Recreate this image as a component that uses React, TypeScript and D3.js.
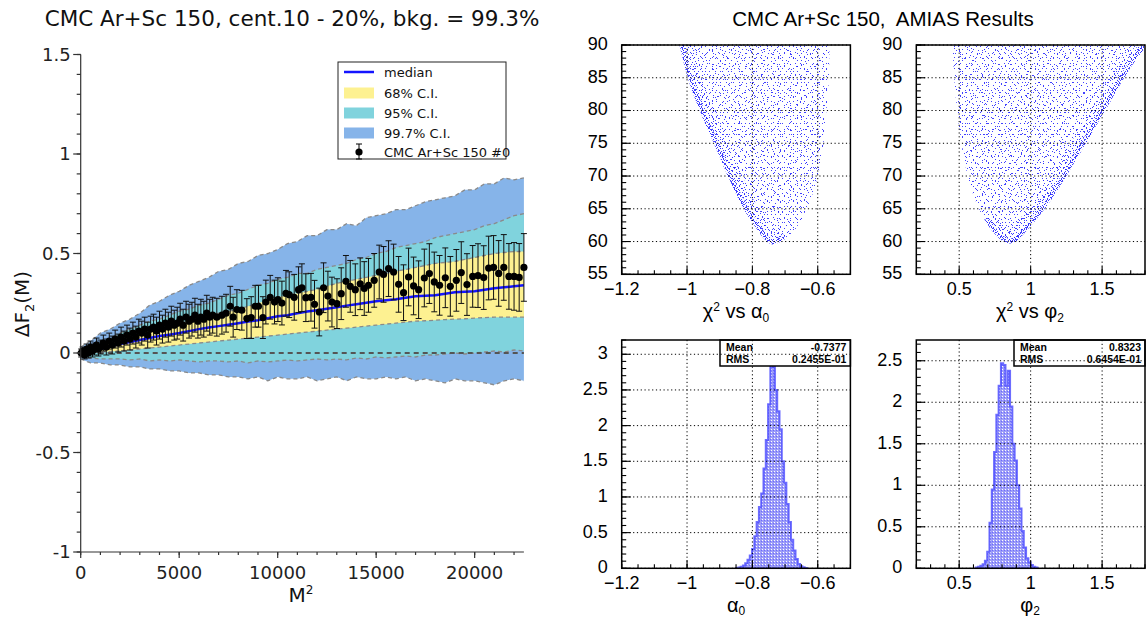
import React from "react";
import * as d3 from "d3";

// ---------- left panel: dF2(M) bands ----------
const bandM2 = [0, 500, 1000, 1500, 2000, 2500, 3000, 3500, 4000, 4500, 5000, 5500, 6000, 6500, 7000, 7500, 8000, 8500, 9000, 9500, 10000, 10500, 11000, 11500, 12000, 12500, 13000, 13500, 14000, 14500, 15000, 15500, 16000, 16500, 17000, 17500, 18000, 18500, 19000, 19500, 20000, 20500, 21000, 21500, 22000, 22500];
const ci997Hi = [0.03, 0.06, 0.1, 0.12, 0.15, 0.17, 0.2, 0.24, 0.26, 0.29, 0.31, 0.34, 0.36, 0.38, 0.41, 0.42, 0.45, 0.46, 0.49, 0.5, 0.52, 0.55, 0.56, 0.59, 0.59, 0.62, 0.62, 0.65, 0.64, 0.68, 0.69, 0.7, 0.72, 0.72, 0.74, 0.76, 0.77, 0.78, 0.79, 0.82, 0.82, 0.85, 0.85, 0.88, 0.87, 0.88];
const ci997Lo = [-0.03, -0.05, -0.05, -0.06, -0.06, -0.07, -0.07, -0.08, -0.08, -0.09, -0.09, -0.1, -0.1, -0.11, -0.11, -0.12, -0.12, -0.13, -0.12, -0.14, -0.12, -0.13, -0.13, -0.12, -0.14, -0.13, -0.12, -0.14, -0.12, -0.13, -0.13, -0.12, -0.13, -0.12, -0.14, -0.13, -0.14, -0.15, -0.13, -0.14, -0.14, -0.15, -0.16, -0.14, -0.13, -0.14];
const ci95Hi = [0.02, 0.035, 0.05, 0.07, 0.1, 0.12, 0.14, 0.16, 0.17, 0.19, 0.21, 0.22, 0.24, 0.25, 0.27, 0.29, 0.3, 0.32, 0.34, 0.35, 0.37, 0.38, 0.4, 0.4, 0.42, 0.43, 0.44, 0.45, 0.47, 0.48, 0.5, 0.51, 0.53, 0.54, 0.55, 0.56, 0.58, 0.59, 0.6, 0.61, 0.62, 0.64, 0.65, 0.67, 0.69, 0.7];
const ci95Lo = [-0.02, -0.025, -0.03, -0.03, -0.03, -0.035, -0.03, -0.04, -0.035, -0.04, -0.035, -0.04, -0.045, -0.04, -0.04, -0.045, -0.04, -0.05, -0.04, -0.045, -0.04, -0.035, -0.04, -0.035, -0.03, -0.035, -0.03, -0.035, -0.025, -0.03, -0.02, -0.025, -0.02, -0.015, -0.02, -0.01, -0.01, -0.005, 0, -0.005, 0, 0.005, 0.01, 0.005, 0.015, 0.01];
const ci68Hi = [0.01, 0.025, 0.04, 0.055, 0.07, 0.08, 0.09, 0.105, 0.12, 0.135, 0.15, 0.16, 0.17, 0.185, 0.2, 0.21, 0.22, 0.235, 0.25, 0.265, 0.28, 0.29, 0.3, 0.31, 0.32, 0.335, 0.35, 0.36, 0.37, 0.38, 0.39, 0.4, 0.41, 0.42, 0.43, 0.44, 0.45, 0.455, 0.46, 0.47, 0.48, 0.49, 0.5, 0.505, 0.51, 0.51];
const ci68Lo = [0, 0, 0.005, 0.008, 0.01, 0.015, 0.02, 0.025, 0.03, 0.035, 0.04, 0.045, 0.05, 0.055, 0.06, 0.065, 0.07, 0.075, 0.08, 0.085, 0.09, 0.095, 0.1, 0.105, 0.11, 0.115, 0.12, 0.125, 0.13, 0.135, 0.14, 0.145, 0.15, 0.155, 0.16, 0.162, 0.165, 0.168, 0.17, 0.172, 0.175, 0.178, 0.18, 0.18, 0.18, 0.18];
const medianY = [0, 0.01, 0.02, 0.033, 0.045, 0.055, 0.065, 0.075, 0.085, 0.092, 0.1, 0.11, 0.12, 0.128, 0.135, 0.142, 0.15, 0.158, 0.165, 0.175, 0.185, 0.19, 0.2, 0.208, 0.215, 0.222, 0.23, 0.238, 0.245, 0.252, 0.26, 0.265, 0.27, 0.278, 0.285, 0.288, 0.29, 0.298, 0.305, 0.308, 0.31, 0.318, 0.325, 0.33, 0.335, 0.34];

// data points: [M^2, dF2, error]
const cmcPoints: [number, number, number][] = [
  [25, 0, 0.02], [100, 0.01, 0.02], [200, -0.01, 0.02], [300, 0.02, 0.025], [400, 0, 0.025], [500, 0.03, 0.03], [600, 0.01, 0.03], [700, 0.02, 0.03], [800, 0.04, 0.035], [900, 0.02, 0.035],
  [1000, 0.03, 0.035], [1150, 0.05, 0.04], [1300, 0.03, 0.04], [1450, 0.06, 0.04], [1600, 0.04, 0.045], [1750, 0.07, 0.045], [1900, 0.05, 0.045], [2050, 0.08, 0.05], [2200, 0.06, 0.05], [2350, 0.09, 0.05],
  [2500, 0.07, 0.055], [2650, 0.1, 0.055], [2800, 0.08, 0.055], [2950, 0.11, 0.06], [3100, 0.1, 0.06], [3250, 0.12, 0.06], [3400, 0.09, 0.065], [3550, 0.12, 0.065], [3700, 0.13, 0.065], [3850, 0.11, 0.07],
  [4000, 0.14, 0.07], [4150, 0.12, 0.07], [4300, 0.15, 0.07], [4450, 0.13, 0.075], [4600, 0.16, 0.075], [4750, 0.14, 0.075], [4900, 0.15, 0.08], [5050, 0.17, 0.08], [5200, 0.14, 0.08], [5350, 0.18, 0.08],
  [5500, 0.16, 0.085], [5650, 0.17, 0.085], [5800, 0.19, 0.085], [5950, 0.16, 0.085], [6100, 0.18, 0.09], [6250, 0.17, 0.09], [6400, 0.2, 0.09], [6550, 0.18, 0.09], [6700, 0.19, 0.09],
  [6910, 0.18, 0.095], [7170, 0.19, 0.095], [7380, 0.2, 0.095], [7590, 0.235, 0.1], [7740, 0.18, 0.1], [7930, 0.218, 0.1], [8180, 0.215, 0.1], [8435, 0.173, 0.1], [8655, 0.178, 0.105], [8860, 0.235, 0.105],
  [9025, 0.235, 0.105], [9250, 0.178, 0.105], [9400, 0.256, 0.11], [9620, 0.28, 0.11], [9840, 0.256, 0.11], [10010, 0.268, 0.11], [10215, 0.251, 0.11], [10420, 0.3, 0.115], [10585, 0.293, 0.115], [10840, 0.28, 0.115],
  [11060, 0.318, 0.115], [11230, 0.328, 0.12], [11430, 0.278, 0.12], [11690, 0.28, 0.12], [11870, 0.245, 0.12], [12110, 0.206, 0.12], [12330, 0.328, 0.125], [12550, 0.286, 0.125], [12755, 0.256, 0.125], [13010, 0.248, 0.125],
  [13225, 0.298, 0.13], [13465, 0.36, 0.13], [13685, 0.335, 0.13], [13940, 0.318, 0.13], [14190, 0.348, 0.13], [14395, 0.324, 0.135], [14610, 0.34, 0.135], [14900, 0.365, 0.135], [15155, 0.407, 0.135], [15375, 0.395, 0.14],
  [15630, 0.424, 0.14], [15885, 0.407, 0.14], [16140, 0.345, 0.14], [16390, 0.303, 0.14], [16645, 0.382, 0.145], [16900, 0.337, 0.145], [17155, 0.318, 0.145], [17445, 0.377, 0.145], [17700, 0.399, 0.15], [17950, 0.357, 0.15],
  [18220, 0.34, 0.15], [18510, 0.378, 0.15], [18765, 0.335, 0.15], [19070, 0.365, 0.155], [19320, 0.404, 0.155], [19610, 0.344, 0.155], [19900, 0.385, 0.155], [20170, 0.389, 0.16], [20460, 0.379, 0.16], [20710, 0.427, 0.16],
  [20960, 0.43, 0.16], [21220, 0.4, 0.165], [21480, 0.43, 0.165], [21740, 0.385, 0.165], [22000, 0.385, 0.17], [22260, 0.38, 0.17], [22500, 0.43, 0.17],
];

const leftYTicks = [-1, -0.5, 0, 0.5, 1, 1.5];
const leftYLabels = ["-1", "-0.5", "0", "0.5", "1", "1.5"];
const leftXTicks = [0, 5000, 10000, 15000, 20000];
const leftXLabels = ["0", "5000", "10000", "15000", "20000"];
const legendLabels = ["median", "68% C.I.", "95% C.I.", "99.7% C.I.", "CMC Ar+Sc 150 #0"];

// ---------- right panels: AMIAS ----------
// scatter envelopes: [parameter, chi2]
const a0Envelope: [number, number][] = [[-1.023, 90], [-0.996, 84.7], [-0.962, 80.1], [-0.918, 75], [-0.874, 69.9], [-0.83, 65.3], [-0.785, 61.8], [-0.76, 60.2], [-0.741, 59.6], [-0.72, 59.8], [-0.697, 60.5], [-0.663, 62.3], [-0.636, 64.8], [-0.608, 68.4], [-0.586, 73.5], [-0.575, 79.1], [-0.566, 84.7], [-0.564, 90]];
const phiEnvelope: [number, number][] = [[0.452, 90], [0.478, 81.6], [0.516, 75], [0.579, 68.4], [0.679, 63.3], [0.78, 60.5], [0.844, 59.7], [0.9, 60.1], [0.957, 61.3], [1.109, 65.3], [1.26, 70.4], [1.386, 75], [1.537, 80.6], [1.688, 86.2], [1.8, 89.7], [1.8, 90]];

const a0Start = -0.85;
const a0Width = 0.007;
const a0Hist = [0.005, 0.01, 0.02, 0.04, 0.07, 0.12, 0.18, 0.27, 0.45, 0.65, 0.86, 1.05, 1.4, 1.8, 2.3, 2.87, 2.82, 2.5, 2.2, 1.95, 1.5, 1.2, 0.9, 0.65, 0.4, 0.25, 0.13, 0.06, 0.03, 0.015, 0.005];
const phiStart = 0.616;
const phiWidth = 0.016;
const phiHist = [0.01, 0.02, 0.03, 0.05, 0.09, 0.2, 0.55, 0.95, 1.4, 1.85, 2.2, 2.47, 2.45, 2.2, 2.38, 1.95, 1.5, 1.3, 1.0, 0.72, 0.45, 0.25, 0.12, 0.07, 0.04, 0.02, 0.01];

const a0Ticks = [-1.2, -1, -0.8, -0.6];
const a0Labels = ["\u22121.2", "\u22121", "\u22120.8", "\u22120.6"];
const phiTicks = [0.5, 1, 1.5];
const phiLabels = ["0.5", "1", "1.5"];
const chiTicks = [55, 60, 65, 70, 75, 80, 85, 90];
const chiLabels = ["55", "60", "65", "70", "75", "80", "85", "90"];
const h1Ticks = [0, 0.5, 1, 1.5, 2, 2.5, 3];
const h1Labels = ["0", "0.5", "1", "1.5", "2", "2.5", "3"];
const h2Ticks = [0, 0.5, 1, 1.5, 2, 2.5];
const h2Labels = ["0", "0.5", "1", "1.5", "2", "2.5"];
const a0Stats = ["-0.7377", "0.2455E-01"];
const phiStats = ["0.8323", "0.6454E-01"];

const FL = "'DejaVu Sans', sans-serif";
const FR = "'Liberation Sans', Arial, sans-serif";

function BandChart() {
  const x = d3.scaleLinear().domain([0, 22500]).range([80.7, 523.9]);
  const y = d3.scaleLinear().domain([-1, 1.5]).range([552, 54.5]);
  const band = (lo: number[], hi: number[]) =>
    d3.area<number>().x((d) => x(d)).y0((_, i) => y(lo[i])).y1((_, i) => y(hi[i]))(bandM2) || "";
  const edge = (v: number[]) => d3.line<number>().x((d) => x(d)).y((_, i) => y(v[i]))(bandM2) || "";
  const yMinor = d3.range(-1, 1.5001, 0.1);
  const xMinor = d3.range(0, 22501, 1000);
  const lx = 338, ly = 62;
  const rows = [72, 93, 113, 133, 152];
  const swatch = ["#fdf191", "#80d3dd", "#86b4e9"];

  return (
    <g fontFamily={FL}>
      <text x={292} y={26} textAnchor="middle" fontSize={21.5} fill="#111">
        CMC Ar+Sc 150, cent.10 - 20%, bkg. = 99.3%
      </text>
      <path d={band(ci997Lo, ci997Hi)} fill="#86b4e9" />
      <path d={band(ci95Lo, ci95Hi)} fill="#80d3dd" />
      <path d={band(ci68Lo, ci68Hi)} fill="#fdf191" />
      <g fill="none" stroke="#8a8a8a" strokeWidth={1.3} strokeDasharray="4,3">
        {[ci997Hi, ci997Lo, ci95Hi, ci95Lo, ci68Hi, ci68Lo].map((v, i) => (
          <path key={i} d={edge(v)} />
        ))}
      </g>
      <line x1={x(0)} x2={x(22500)} y1={y(0)} y2={y(0)} stroke="#555" strokeWidth={2} strokeDasharray="5,4" />
      <path d={edge(medianY)} fill="none" stroke="#1414ff" strokeWidth={2.5} />
      <g stroke="#111" strokeWidth={1}>
        {cmcPoints.map(([m, v, e], i) => (
          <g key={i}>
            <line x1={x(m)} x2={x(m)} y1={y(v - e)} y2={y(v + e)} />
            <line x1={x(m) - 3} x2={x(m) + 3} y1={y(v - e)} y2={y(v - e)} />
            <line x1={x(m) - 3} x2={x(m) + 3} y1={y(v + e)} y2={y(v + e)} />
          </g>
        ))}
      </g>
      <g fill="#000">
        {cmcPoints.map(([m, v], i) => (
          <circle key={i} cx={x(m)} cy={y(v)} r={3.6} />
        ))}
      </g>
      {/* axes */}
      <g stroke="#333" strokeWidth={1.2}>
        <line x1={x(0)} x2={x(0)} y1={y(-1)} y2={y(1.5)} />
        <line x1={x(0)} x2={x(22500)} y1={y(-1)} y2={y(-1)} />
        {yMinor.map((t, i) => (
          <line key={"ym" + i} x1={x(0) - 4} x2={x(0)} y1={y(t)} y2={y(t)} />
        ))}
        {leftYTicks.map((t, i) => (
          <line key={"y" + i} x1={x(0) - 7.5} x2={x(0)} y1={y(t)} y2={y(t)} />
        ))}
        {xMinor.map((t, i) => (
          <line key={"xm" + i} x1={x(t)} x2={x(t)} y1={y(-1)} y2={y(-1) + 3} />
        ))}
        {leftXTicks.map((t, i) => (
          <line key={"x" + i} x1={x(t)} x2={x(t)} y1={y(-1)} y2={y(-1) + 6} />
        ))}
      </g>
      <g fontSize={18} fill="#222">
        {leftYTicks.map((t, i) => (
          <text key={i} x={x(0) - 10} y={y(t)} dy="0.36em" textAnchor="end">
            {leftYLabels[i]}
          </text>
        ))}
        {leftXTicks.map((t, i) => (
          <text key={i} x={x(t)} y={579} textAnchor="middle">
            {leftXLabels[i]}
          </text>
        ))}
      </g>
      <text x={301} y={602} textAnchor="middle" fontSize={20} fill="#111">
        M<tspan dy={-8} fontSize={12}>2</tspan>
      </text>
      <text transform="translate(29,304) rotate(-90)" textAnchor="middle" fontSize={20} fill="#111">
        ΔF<tspan dy={5} fontSize={13}>2</tspan>
        <tspan dy={-5}>(M)</tspan>
      </text>
      {/* legend */}
      <rect x={lx} y={ly} width={168} height={97} fill="#fff" stroke="#222" strokeWidth={1} />
      <line x1={344} x2={374} y1={rows[0]} y2={rows[0]} stroke="#1414ff" strokeWidth={2.5} />
      {swatch.map((c, i) => (
        <rect key={i} x={344} y={rows[i + 1] - 5.5} width={30} height={11} fill={c} />
      ))}
      <g stroke="#000" strokeWidth={1}>
        <line x1={359} x2={359} y1={rows[4] - 8} y2={rows[4] + 7} />
        <line x1={356} x2={362} y1={rows[4] - 8} y2={rows[4] - 8} />
        <line x1={356} x2={362} y1={rows[4] + 7} y2={rows[4] + 7} />
      </g>
      <circle cx={359} cy={rows[4]} r={3.6} fill="#000" />
      <g fontSize={13} fill="#111">
        {legendLabels.map((l, i) => (
          <text key={i} x={384} y={rows[i]} dy="0.36em">
            {l}
          </text>
        ))}
      </g>
    </g>
  );
}

type Box = { l: number; r: number; t: number; b: number };
type Sc = d3.ScaleLinear<number, number>;

function RootPanel(props: {
  id: string;
  box: Box;
  xDom: [number, number];
  yDom: [number, number];
  xTicks: number[];
  xLabels: string[];
  xMinor: number[];
  yTicks: number[];
  yLabels: string[];
  yMinor: number[];
  render: (x: Sc, y: Sc) => React.ReactNode;
  overlay?: React.ReactNode;
}) {
  const { id, box, xDom, yDom, xTicks, xLabels, xMinor, yTicks, yLabels, yMinor, render, overlay } = props;
  const x = d3.scaleLinear().domain(xDom).range([box.l, box.r]);
  const y = d3.scaleLinear().domain(yDom).range([box.b, box.t]);
  return (
    <g>
      <defs>
        <clipPath id={id}>
          <rect x={box.l} y={box.t} width={box.r - box.l} height={box.b - box.t} />
        </clipPath>
      </defs>
      <g clipPath={`url(#${id})`}>{render(x, y)}</g>
      {overlay}
      <g stroke="#000" strokeWidth={1} strokeDasharray="1.2,2.6">
        {xTicks.map((t, i) => (
          <line key={"gx" + i} x1={x(t)} x2={x(t)} y1={box.t} y2={box.b} />
        ))}
        {yTicks.map((t, i) => (
          <line key={"gy" + i} x1={box.l} x2={box.r} y1={y(t)} y2={y(t)} />
        ))}
      </g>
      <rect x={box.l} y={box.t} width={box.r - box.l} height={box.b - box.t} fill="none" stroke="#000" strokeWidth={1.5} />
      <g stroke="#000" strokeWidth={1.1}>
        {xMinor.map((t, i) => (
          <line key={"mx" + i} x1={x(t)} x2={x(t)} y1={box.b} y2={box.b - 4} />
        ))}
        {xTicks.map((t, i) => (
          <line key={"tx" + i} x1={x(t)} x2={x(t)} y1={box.b} y2={box.b - 8} />
        ))}
        {yMinor.map((t, i) => (
          <line key={"my" + i} x1={box.l} x2={box.l + 4.5} y1={y(t)} y2={y(t)} />
        ))}
        {yTicks.map((t, i) => (
          <line key={"ty" + i} x1={box.l} x2={box.l + 9} y1={y(t)} y2={y(t)} />
        ))}
      </g>
      <g fontFamily={FR} fontSize={18} fill="#000">
        {xTicks.map((t, i) => (
          <text key={i} x={x(t)} y={box.b + 20.5} textAnchor="middle">
            {xLabels[i]}
          </text>
        ))}
        {yTicks.map((t, i) => (
          <text key={i} x={box.l - 14} y={y(t) - 1.5} dy="0.36em" textAnchor="end">
            {yLabels[i]}
          </text>
        ))}
      </g>
    </g>
  );
}

function scatter(env: [number, number][], dense: [number, number][], id: string) {
  return (x: Sc, y: Sc) => {
    const ln = d3.line<[number, number]>().x((d) => x(d[0])).y((d) => y(d[1])).curve(d3.curveCatmullRom);
    const poly = (ln(env) || "") + "Z";
    const dd = ln(dense) || "";
    return (
      <g>
        <clipPath id={id}>
          <path d={poly} />
        </clipPath>
        <path d={poly} fill="url(#dots11)" />
        <path d={poly} fill="url(#dots13)" />
        <path d={poly} fill="url(#dots17)" />
        <path d={poly} fill="url(#dots19)" />
        <path d={dd} fill="none" stroke="url(#dots7)" strokeWidth={26} clipPath={`url(#${id})`} />
        <path d={dd} fill="none" stroke="url(#dotsDense)" strokeWidth={9} clipPath={`url(#${id})`} />
      </g>
    );
  };
}

function hist(start: number, w: number, h: number[]) {
  return (x: Sc, y: Sc) => {
    let d = `M${x(start)},${y(0)}`;
    h.forEach((v, i) => {
      d += `L${x(start + i * w)},${y(v)}L${x(start + (i + 1) * w)},${y(v)}`;
    });
    d += `L${x(start + h.length * w)},${y(0)}Z`;
    return <path d={d} fill="url(#histFill)" stroke="#4a4aff" strokeWidth={2} strokeOpacity={0.8} />;
  };
}

function StatsBox({ l, r, t, vals }: { l: number; r: number; t: number; vals: string[] }) {
  return (
    <g fontFamily={FR} fontSize={10.5} fontWeight="bold" fill="#000">
      <rect x={l} y={t} width={r - l} height={26} fill="#fff" stroke="#000" strokeWidth={1.5} />
      <text x={l + 6} y={t + 11}>Mean</text>
      <text x={r - 4} y={t + 11} textAnchor="end">{vals[0]}</text>
      <text x={l + 6} y={t + 23}>RMS</text>
      <text x={r - 4} y={t + 23} textAnchor="end">{vals[1]}</text>
    </g>
  );
}

function Dot({ x, y }: { x: number; y: number }) {
  return <rect x={x} y={y} width={1} height={1} fill="#2020ff" fillOpacity={0.85} />;
}

function AmiasPanels() {
  const A: Box = { l: 621.7, r: 850.4, t: 45, b: 274.3 };
  const B: Box = { l: 916.3, r: 1145, t: 45, b: 274.3 };
  const C: Box = { l: 621.7, r: 850.4, t: 340, b: 568.3 };
  const D: Box = { l: 916.3, r: 1145, t: 340, b: 568.3 };
  const a0Minor = d3.range(-1.2, -0.4999, 0.05);
  const phiMinor = d3.range(0.2, 1.8001, 0.1);
  const chiMinor = d3.range(55, 90.001, 1);
  const h1Minor = d3.range(0, 3.2001, 0.1);
  const h2Minor = d3.range(0, 2.7501, 0.1);
  return (
    <g>
      <defs>
        <pattern id="dots7" width={7} height={7} patternUnits="userSpaceOnUse">
          <Dot x={1} y={1} /><Dot x={4} y={3} /><Dot x={2} y={5} /><Dot x={6} y={6} />
        </pattern>
        <pattern id="dots11" width={11} height={11} patternUnits="userSpaceOnUse">
          <Dot x={3} y={8} /><Dot x={8} y={2} /><Dot x={9} y={9} /><Dot x={5} y={5} /><Dot x={1} y={2} />
        </pattern>
        <pattern id="dots13" width={13} height={13} patternUnits="userSpaceOnUse">
          <Dot x={0} y={6} /><Dot x={7} y={11} /><Dot x={11} y={4} /><Dot x={4} y={1} /><Dot x={10} y={12} />
        </pattern>
        <pattern id="dots17" width={17} height={17} patternUnits="userSpaceOnUse">
          <Dot x={2} y={14} /><Dot x={13} y={7} /><Dot x={8} y={3} /><Dot x={6} y={10} /><Dot x={15} y={15} />
        </pattern>
        <pattern id="dots19" width={19} height={19} patternUnits="userSpaceOnUse">
          <Dot x={3} y={3} /><Dot x={12} y={16} /><Dot x={17} y={9} /><Dot x={9} y={12} /><Dot x={1} y={17} /><Dot x={14} y={1} />
        </pattern>
        <pattern id="dotsDense" width={4} height={4} patternUnits="userSpaceOnUse">
          <Dot x={0} y={0} /><Dot x={2} y={1} /><Dot x={1} y={3} /><Dot x={3} y={2} />
        </pattern>
        <pattern id="histFill" width={3} height={3} patternUnits="userSpaceOnUse">
          <rect x={0} y={0} width={3} height={3} fill="#9d9df7" />
          <rect x={0} y={0} width={1} height={1} fill="#fff" />
          <rect x={2} y={1} width={1} height={1} fill="#6a6aff" />
        </pattern>
      </defs>
      <text x={883} y={26} textAnchor="middle" fontFamily={FR} fontSize={20.5} fill="#000">
        CMC Ar+Sc 150,{"\u00a0"} AMIAS Results
      </text>
      <RootPanel id="pA" box={A} xDom={[-1.2, -0.5]} yDom={[55, 90]} xTicks={a0Ticks} xLabels={a0Labels} xMinor={a0Minor}
        yTicks={chiTicks} yLabels={chiLabels} yMinor={chiMinor} render={scatter(a0Envelope, a0Envelope.slice(0, 11), "envA")} />
      <RootPanel id="pB" box={B} xDom={[0.2, 1.8]} yDom={[55, 90]} xTicks={phiTicks} xLabels={phiLabels} xMinor={phiMinor}
        yTicks={chiTicks} yLabels={chiLabels} yMinor={chiMinor} render={scatter(phiEnvelope, phiEnvelope.slice(4), "envB")} />
      <RootPanel id="pC" box={C} xDom={[-1.2, -0.5]} yDom={[0, 3.2]} xTicks={a0Ticks} xLabels={a0Labels} xMinor={a0Minor}
        yTicks={h1Ticks} yLabels={h1Labels} yMinor={h1Minor} render={hist(a0Start, a0Width, a0Hist)}
        overlay={<StatsBox l={720} r={C.r} t={C.t} vals={a0Stats} />} />
      <RootPanel id="pD" box={D} xDom={[0.2, 1.8]} yDom={[0, 2.75]} xTicks={phiTicks} xLabels={phiLabels} xMinor={phiMinor}
        yTicks={h2Ticks} yLabels={h2Labels} yMinor={h2Minor} render={hist(phiStart, phiWidth, phiHist)}
        overlay={<StatsBox l={1014} r={D.r} t={D.t} vals={phiStats} />} />
      <g fontFamily={FR} fontSize={20} fill="#000" textAnchor="middle">
        <text x={736} y={318}>
          χ<tspan dy={-7} fontSize={12}>2</tspan>
          <tspan dy={7}> vs α</tspan>
          <tspan dy={4} fontSize={12}>0</tspan>
        </text>
        <text x={1030} y={318}>
          χ<tspan dy={-7} fontSize={12}>2</tspan>
          <tspan dy={7}> vs φ</tspan>
          <tspan dy={4} fontSize={12}>2</tspan>
        </text>
        <text x={736} y={612}>
          α<tspan dy={3} fontSize={12}>0</tspan>
        </text>
        <text x={1030} y={612}>
          φ<tspan dy={3} fontSize={12}>2</tspan>
        </text>
      </g>
    </g>
  );
}

export default function App() {
  return (
    <div style={{ position: "absolute", left: 0, top: 0 }}>
      <svg width={1147} height={619} style={{ display: "block", background: "#fff" }}>
        <BandChart />
        <AmiasPanels />
      </svg>
    </div>
  );
}
